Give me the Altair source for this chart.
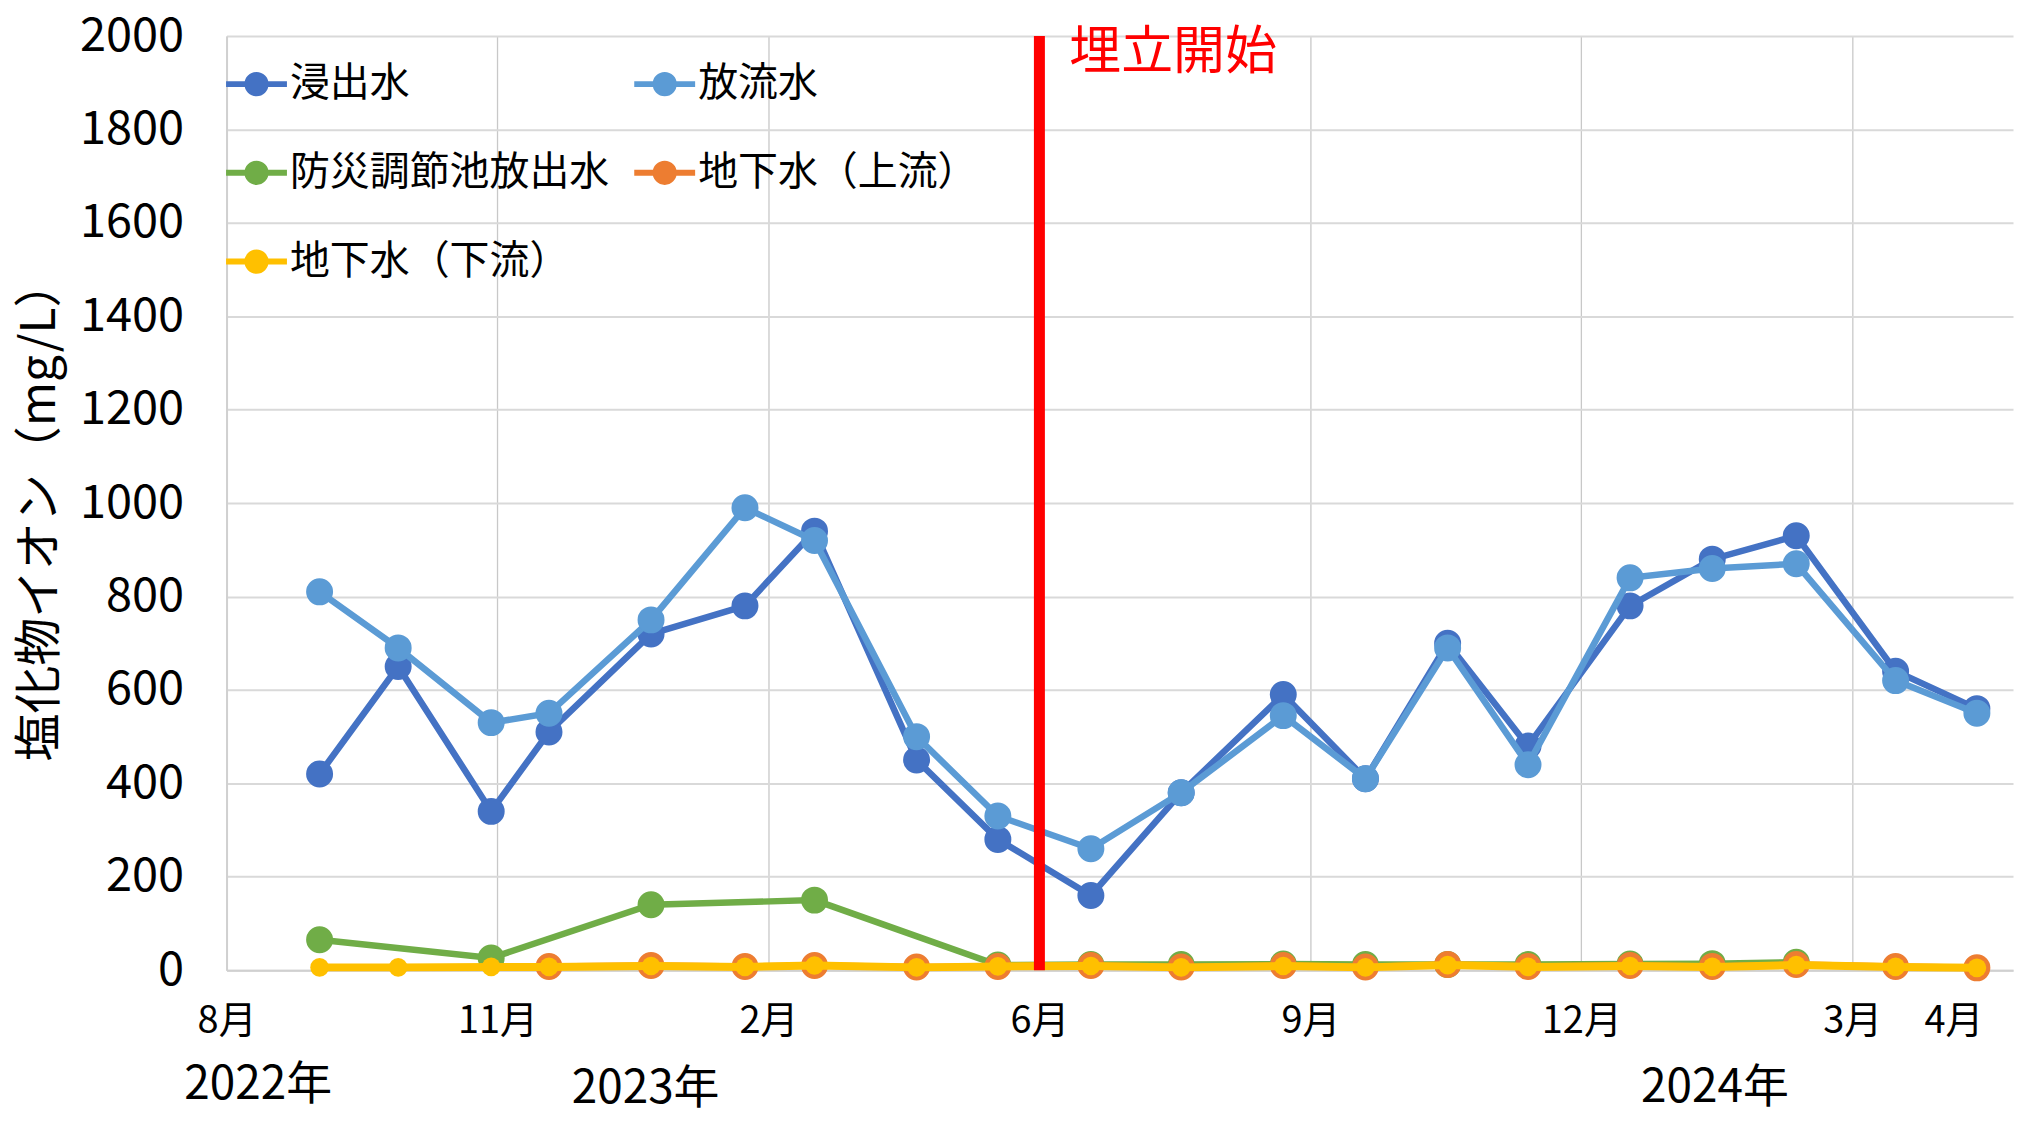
import altair as alt
import pandas as pd

# ---------------- data ----------------
series_names = ["浸出水", "放流水", "防災調節池放出水", "地下水（上流）", "地下水（下流）"]
series_colors = ["#4472C4", "#5B9BD5", "#70AD47", "#ED7D31", "#FFC000"]
marker_sizes = [730, 730, 730, 730, 350]
line_widths = [6.5, 6.5, 6.5, 6.5, 8]
# legend fills column by column: this order gives the reference's row layout
legend_order = ["浸出水", "防災調節池放出水", "地下水（下流）", "放流水", "地下水（上流）"]

# sampling positions on the axis (axis unit: one gridline = 3 units, 0 = "8月")
x_pos = [1.03, 1.90, 2.93, 3.57, 4.70, 5.74, 6.51, 7.64, 8.54, 9.57,
         10.57, 11.70, 12.61, 13.52, 14.41, 15.54, 16.45, 17.38, 18.48, 19.38]

leachate = [420, 650, 340, 510, 720, 780, 940, 450, 280, 160,
            380, 590, 410, 700, 480, 780, 880, 930, 640, 560]
discharge = [810, 690, 530, 550, 750, 990, 920, 500, 330, 260,
             380, 545, 410, 690, 440, 840, 860, 870, 620, 550]
disaster_pond = [65, None, 26, None, 140, None, 150, None, 11, 12,
                 12, 13, 12, 12, 12, 13, 14, 17, None, None]
ground_up = [None, None, None, 8, 10, 8, 10, 7, 8, 10,
             7, 10, 7, 12, 8, 10, 8, 12, 8, 5]
ground_down = [6, 6, 7, 7, 9, 7, 10, 6, 8, 9,
               6, 9, 6, 11, 7, 9, 7, 11, 7, 5]

tick_values = [0, 3, 6, 9, 12, 15, 18, 19.12]
tick_labels = ["8月", "11月", "2月", "6月", "9月", "12月", "3月", "4月"]
x_max = 19.78

landfill_x = [9]
landfill_label = ["埋立開始"]

year_labels = ["2022年", "2023年", "2024年"]
year_x = [0.35, 4.64, 16.48]
year_y = [-245, -254, -252]

# ---------------- build tables ----------------
rows = []
for name, vals in zip(series_names, [leachate, discharge, disaster_pond, ground_up, ground_down]):
    for xv, v in zip(x_pos, vals):
        if v is not None:
            rows.append({"x": xv, "value": v, "series": name})
df = pd.DataFrame(rows)
start_df = pd.DataFrame({"x": landfill_x, "label": landfill_label})
year_df = pd.DataFrame({"x": year_x, "value": year_y, "label": year_labels})

CJK = "Noto Sans CJK JP"

color_scale = alt.Scale(domain=legend_order,
                        range=[series_colors[series_names.index(n)] for n in legend_order])
x_scale = alt.Scale(domain=[0, x_max], nice=False, zero=False)
y_scale = alt.Scale(domain=[0, 2000], nice=False)

vals_js = "[" + ",".join(str(v) for v in tick_values) + "]"
labs_js = "[" + ",".join("'" + l + "'" for l in tick_labels) + "]"
label_expr = f"{labs_js}[indexof({vals_js}, datum.value)]"

x_axis = alt.Axis(
    values=tick_values, labelExpr=label_expr, title=None,
    grid=True, gridColor="#c8c8c8", gridWidth=1.3,
    gridOpacity={"condition": {"test": "datum.value > 18.5", "value": 0}, "value": 1},
    ticks=False, domainColor="#d0d0d0", domainWidth=2,
    labelFont=CJK, labelFontSize=38, labelColor="black", labelPadding=32,
    labelFlush=False, labelOverlap=False,
)
y_axis = alt.Axis(
    values=list(range(0, 2001, 200)), format="d", title="塩化物イオン（mg/L）",
    grid=True, gridColor="#d9d9d9", gridWidth=2,
    ticks=False, domainColor="#d0d0d0", domainWidth=2,
    labelFont=CJK, labelFontSize=47, labelColor="black", labelPadding=43,
    labelFlush=False,
    titleFont=CJK, titleFontSize=48, titleFontWeight="normal", titleColor="black",
    titleAngle=270, titleX=-186, titleY=475, titleAlign="center", titleBaseline="middle",
)

x_enc = alt.X("x:Q", scale=x_scale, axis=x_axis)
y_enc = alt.Y("value:Q", scale=y_scale, axis=y_axis)

symbol_path = ("M-1,0L1,0"
               "M0.1,0A0.1,0.1,0,1,1,-0.1,0A0.1,0.1,0,1,1,0.1,0"
               "M0.2,0A0.2,0.2,0,1,1,-0.2,0A0.2,0.2,0,1,1,0.2,0"
               "M0.3,0A0.3,0.3,0,1,1,-0.3,0A0.3,0.3,0,1,1,0.3,0")

legend = alt.Legend(
    title=None, orient="none", legendX=-3.5, legendY=14.5,
    columns=2, columnPadding=13, rowPadding=34, padding=0,
    symbolType=symbol_path, symbolSize=3721, symbolStrokeWidth=6,
    labelFont=CJK, labelFontSize=40, labelColor="black", labelOffset=0,
    labelLimit=1000,
)

layers = []
for i, name in enumerate(series_names):
    base = alt.Chart(df).transform_filter(alt.datum.series == name)
    line = base.mark_line(strokeWidth=line_widths[i]).encode(
        x=x_enc, y=y_enc,
        color=alt.Color("series:N", scale=color_scale, legend=legend),
    )
    pts = base.mark_circle(size=marker_sizes[i], opacity=1).encode(
        x=x_enc, y=y_enc,
        color=alt.Color("series:N", scale=color_scale, legend=None),
    )
    layers += [line, pts]

rule = alt.Chart(start_df).mark_rule(color="#FF0000", strokeWidth=11).encode(
    x=x_enc, y=alt.datum(0, scale=y_scale), y2=alt.datum(2000)
)
start_text = alt.Chart(start_df).mark_text(
    color="#FF0000", font=CJK, fontSize=52, align="left", baseline="middle", dx=30, dy=17
).encode(x=x_enc, y=alt.datum(2000), text="label:N")

years = alt.Chart(year_df).mark_text(
    font=CJK, fontSize=46, align="center", baseline="middle", color="black"
).encode(x=x_enc, y=y_enc, text="label:N")

chart = alt.layer(*layers, rule, start_text, years).properties(
    width=1790, height=936,
    autosize=alt.AutoSizeParams(type="none"),
    padding={"left": 219, "top": 27, "right": 5, "bottom": 140},
    background="white",
).configure_view(stroke=None)

chart.save("out.html", embed_options={"renderer": "svg", "actions": False})
